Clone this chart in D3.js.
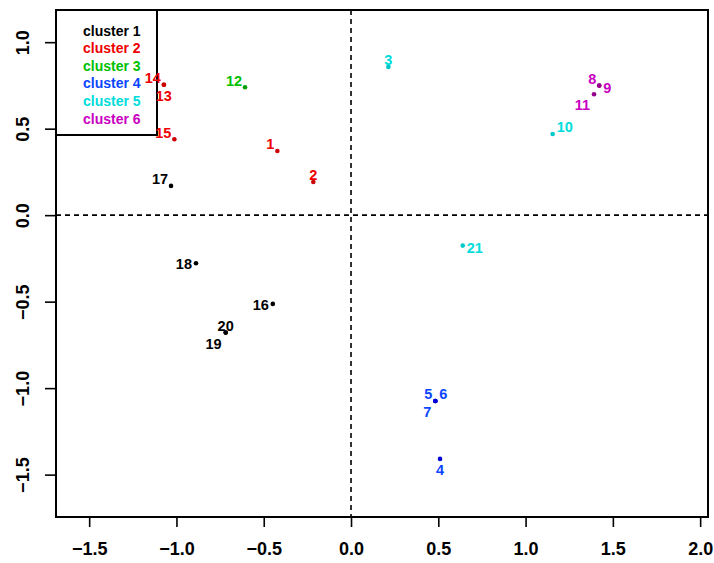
<!DOCTYPE html>
<html>
<head>
<meta charset="utf-8">
<script src="https://cdn.jsdelivr.net/npm/d3@7"></script>
<style>
  html, body { margin: 0; padding: 0; background: #fff; }
  svg { display: block; font-family: "Liberation Sans", Arial, Helvetica, sans-serif; }
  .tick-label { font-size: 18px; font-weight: bold; fill: #000; }
  .pt-label { font-size: 14.5px; font-weight: bold; }
  .leg-label { font-size: 14px; font-weight: bold; }
</style>
</head>
<body>
<div id="chart"></div>
<script>
/* cluster scatter (R base-graphics look): dashed zero lines, legend top-left */

// point ids, coordinates and cluster membership
const ids      = [1, 2, 3, 4, 5, 6, 7, 8, 9, 10, 11, 12, 13, 14, 15, 16, 17, 18, 19, 20, 21];
const xs       = [-0.422, -0.216, 0.214, 0.510, 0.483, 0.483, 0.483, 1.422, 1.422, 1.155, 1.392,
                  -0.607, -1.072, -1.072, -1.012, -0.448, -1.031, -0.888, -0.718, -0.718, 0.640];
const ys       = [0.371, 0.192, 0.857, -1.409, -1.074, -1.074, -1.074, 0.749, 0.749, 0.469, 0.699,
                  0.739, 0.754, 0.754, 0.439, -0.513, 0.169, -0.278, -0.679, -0.679, -0.176];
const clusters = [2, 2, 5, 4, 4, 4, 4, 6, 6, 5, 6, 3, 2, 2, 2, 1, 1, 1, 1, 1, 5];
// where each label sits relative to its point (compass codes)
const labelPos = ["nw", "n", "n", "s", "nw", "ne", "sw", "nw", "e", "ne", "sw",
                  "nw", "s", "nw", "nw", "w", "nw", "w", "sw", "n", "e"];

const legendNames = ["cluster 1", "cluster 2", "cluster 3", "cluster 4", "cluster 5", "cluster 6"];
const textColors  = ["#000000", "#EE0000", "#00C000", "#0A46FF", "#00DCDC", "#C800C0"];
const dotColors   = ["#000000", "#CC0000", "#009E00", "#0000D8", "#00C8C8", "#96008C"];

const xTicks = [-1.5, -1.0, -0.5, 0.0, 0.5, 1.0, 1.5, 2.0];
const yTicks = [-1.5, -1.0, -0.5, 0.0, 0.5, 1.0];
const xDomain = [-1.69, 2.045];
const yDomain = [-1.745, 1.186];

const W = 714, H = 563;
const M = { left: 56, right: 6, top: 10, bottom: 46 };

const x = d3.scaleLinear().domain(xDomain).range([M.left, W - M.right]);
const y = d3.scaleLinear().domain(yDomain).range([H - M.bottom, M.top]);

const svg = d3.select("#chart").append("svg")
  .attr("width", W).attr("height", H).attr("viewBox", `0 0 ${W} ${H}`);

// dashed reference lines at 0
svg.append("line")
  .attr("x1", x(0)).attr("x2", x(0)).attr("y1", y.range()[1]).attr("y2", y.range()[0])
  .attr("stroke", "#000").attr("stroke-width", 1.6).attr("stroke-dasharray", "5,4");
svg.append("line")
  .attr("x1", x.range()[0]).attr("x2", x.range()[1]).attr("y1", y(0)).attr("y2", y(0))
  .attr("stroke", "#000").attr("stroke-width", 1.6).attr("stroke-dasharray", "5,4");

// axes
const xAxis = svg.append("g")
  .attr("transform", `translate(0,${y.range()[0]})`)
  .call(d3.axisBottom(x).tickValues(xTicks).tickSize(10).tickPadding(24).tickFormat(d3.format(".1f")));
const yAxis = svg.append("g")
  .attr("transform", `translate(${x.range()[0]},0)`)
  .call(d3.axisLeft(y).tickValues(yTicks).tickSize(11).tickFormat(d3.format(".1f")));

[xAxis, yAxis].forEach(g => {
  g.select(".domain").remove();
  g.selectAll(".tick line").attr("stroke", "#000").attr("stroke-width", 1.6);
  g.selectAll(".tick text").attr("class", "tick-label").attr("font-family", null).attr("font-size", null);
});
xAxis.selectAll(".tick text").attr("dy", "0.2em");
yAxis.selectAll(".tick text")
  .attr("x", null).attr("dy", null)
  .attr("text-anchor", "middle")
  .attr("transform", "translate(-27,0) rotate(-90)");

// plot box
svg.append("rect")
  .attr("x", x.range()[0]).attr("y", y.range()[1])
  .attr("width", x.range()[1] - x.range()[0]).attr("height", y.range()[0] - y.range()[1])
  .attr("fill", "none").attr("stroke", "#000").attr("stroke-width", 2);

// legend (drawn before points so labels sit on top of its border)
const leg = svg.append("g");
leg.append("rect")
  .attr("x", x.range()[0]).attr("y", y.range()[1])
  .attr("width", 101).attr("height", 125)
  .attr("fill", "none").attr("stroke", "#000").attr("stroke-width", 2);
leg.selectAll("text")
  .data(legendNames).join("text")
  .attr("class", "leg-label")
  .attr("x", x.range()[0] + 27)
  .attr("y", (d, i) => y.range()[1] + 25.5 + i * 17.6)
  .attr("fill", (d, i) => textColors[i])
  .text(d => d);

// points + labels
const pts = ids.map((id, i) => ({ id, x: xs[i], y: ys[i], c: clusters[i], pos: labelPos[i] }));

svg.append("g").selectAll("circle")
  .data(pts).join("circle")
  .attr("cx", d => x(d.x)).attr("cy", d => y(d.y)).attr("r", 2.3)
  .attr("fill", d => dotColors[d.c - 1]);

const OFF = {
  nw: { dx: -3, dy: -1.5, anchor: "end" },
  n:  { dx: 0,  dy: -1.5, anchor: "middle" },
  ne: { dx: 4,  dy: -2,   anchor: "start" },
  e:  { dx: 4,  dy: 7,    anchor: "start" },
  w:  { dx: -4, dy: 6,    anchor: "end" },
  sw: { dx: -4, dy: 16,   anchor: "end" },
  s:  { dx: 0,  dy: 16,   anchor: "middle" }
};

svg.append("g").selectAll("text")
  .data(pts).join("text")
  .attr("class", "pt-label")
  .attr("x", d => x(d.x) + OFF[d.pos].dx)
  .attr("y", d => y(d.y) + OFF[d.pos].dy)
  .attr("text-anchor", d => OFF[d.pos].anchor)
  .attr("fill", d => textColors[d.c - 1])
  .text(d => d.id);
</script>
</body>
</html>
